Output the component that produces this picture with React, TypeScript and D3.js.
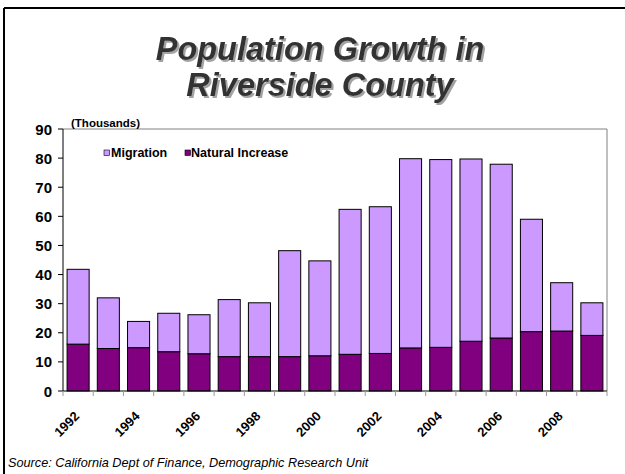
import React from "react";
import * as d3 from "d3";

const years = [1992,1993,1994,1995,1996,1997,1998,1999,2000,2001,2002,2003,2004,2005,2006,2007,2008,2009];
const naturalIncrease = [16.1,14.6,14.9,13.5,12.8,11.8,11.8,11.8,12.1,12.6,12.9,14.8,15.0,17.1,18.2,20.4,20.6,19.1];
const totalGrowth = [41.8,32.0,23.9,26.7,26.2,31.4,30.3,48.2,44.7,62.4,63.3,79.8,79.5,79.7,77.9,59.0,37.2,30.3];
const migration = totalGrowth.map((t, i) => +(t - naturalIncrease[i]).toFixed(1));
const yTicks = [0,10,20,30,40,50,60,70,80,90];
const xLabelYears = [1992,1994,1996,1998,2000,2002,2004,2006,2008];

const W = 625, H = 474;
const left = 63, right = 607, top = 129, bottom = 391;
const FONT = "Arial, 'Liberation Sans', sans-serif";
const MIG = "#CC99FF";
const NAT = "#800080";

export default function App() {
  const x = d3.scaleBand<number>().domain(years).range([left, right]).paddingInner(0.27).paddingOuter(0.135);
  const xb = d3.scaleBand<number>().domain(years).range([left, right]);
  const y = d3.scaleLinear().domain([0, 90]).range([bottom, top]);
  const stack = d3.stack<number>().keys(["nat", "mig"]).value((i, k) => (k === "nat" ? naturalIncrease[i] : migration[i]));
  const series = stack(years.map((_, i) => i));
  const colors: Record<string, string> = { nat: NAT, mig: MIG };

  return (
    <svg width={W} height={H} style={{ position: "absolute", left: 0, top: 0, background: "#fff" }}>
      <defs>
        <filter id="shadow" x="-5%" y="-20%" width="110%" height="140%">
          <feDropShadow dx={2} dy={2} stdDeviation={0.7} floodColor="#999" floodOpacity={0.9} />
        </filter>
      </defs>
      <rect x={0} y={0} width={W} height={H} fill="#fff" />
      {/* frame */}
      <line x1={4} y1={8} x2={W} y2={8} stroke="#000" strokeWidth={2} />
      <line x1={4} y1={8} x2={4} y2={H} stroke="#000" strokeWidth={2} />

      {/* title */}
      <g fontFamily={FONT} fontWeight="bold" fontStyle="italic" fontSize={32.5} textAnchor="middle" fill="#333" filter="url(#shadow)">
        <text x={320} y={60}>Population Growth in</text>
        <text x={320} y={96}>Riverside County</text>
      </g>

      {/* plot border */}
      <line x1={left} y1={top} x2={right} y2={top} stroke="#808080" strokeWidth={1} />
      <line x1={right} y1={top} x2={right} y2={bottom} stroke="#808080" strokeWidth={1} />

      {/* bars */}
      {series.map((s) => (
        <g key={s.key} fill={colors[s.key]} stroke="#000" strokeWidth={1}>
          {s.map((d, j) => (
            <rect key={j} x={x(years[j])!} y={y(d[1])} width={x.bandwidth()} height={y(d[0]) - y(d[1])} />
          ))}
        </g>
      ))}

      {/* axes */}
      <line x1={left} y1={top} x2={left} y2={bottom} stroke="#000" strokeWidth={1} />
      <line x1={left} y1={bottom} x2={right} y2={bottom} stroke="#000" strokeWidth={1} />
      {yTicks.map((t) => (
        <g key={t}>
          <line x1={left - 5} y1={y(t)} x2={left} y2={y(t)} stroke="#000" />
          <text x={52} y={y(t) + 5.5} textAnchor="end" fontFamily={FONT} fontWeight="bold" fontSize={15}>{t}</text>
        </g>
      ))}
      {years.map((yr) => (
        <line key={yr} x1={xb(yr)!} y1={bottom} x2={xb(yr)!} y2={bottom + 5} stroke="#999" />
      ))}
      <line x1={right} y1={bottom} x2={right} y2={bottom + 5} stroke="#999" />
      {xLabelYears.map((yr) => {
        const cx = x(yr)! + x.bandwidth() / 2 + 2;
        const cy = bottom + 26;
        return (
          <text key={yr} transform={`translate(${cx},${cy}) rotate(-45)`} textAnchor="end" fontFamily={FONT} fontWeight="bold" fontSize={13}>{yr}</text>
        );
      })}

      {/* units */}
      <text x={71} y={127} fontFamily={FONT} fontWeight="bold" fontSize={11.5}>(Thousands)</text>

      {/* legend */}
      <g fontFamily={FONT} fontWeight="bold" fontSize={12.5}>
        <rect x={104} y={150} width={5.5} height={5.5} fill={MIG} stroke="#000" strokeWidth={0.6} />
        <text x={111} y={157}>Migration</text>
        <rect x={185} y={150} width={5.5} height={5.5} fill={NAT} stroke="#000" strokeWidth={0.6} />
        <text x={191} y={157}>Natural Increase</text>
      </g>

      {/* source */}
      <text x={8} y={467} fontFamily={FONT} fontStyle="italic" fontSize={12.7}>Source:  California Dept of Finance, Demographic Research Unit</text>
    </svg>
  );
}
